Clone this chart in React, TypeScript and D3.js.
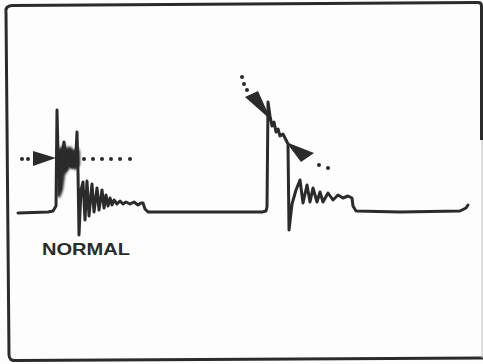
import React from "react";
import * as d3 from "d3";

// Trace: [time, amplitude] (baseline amplitude = 0)
const trace: [number, number][] = [
  [18, -1], [48, 0], [53, 1], [56, 6], [57, 102], [58, 60], [60, 22], [62, 50], [64, 70],
  [66, 42], [68, 56], [70, 48], [72, 45], [74, 55], [76, 60], [77, 80], [78, 40], [79, -23],
  [81, 22], [83, 30], [85, -8], [87, 31], [89, -4], [92, 28], [94, 0], [97, 24], [99, 2],
  [102, 22], [104, 4], [106, 17], [108, 6], [110, 14], [112, 7], [114, 12], [117, 8],
  [120, 11], [123, 8], [126, 10], [130, 8], [134, 10], [138, 7], [141, 9], [143, 9],
  [145, 3], [148, 0], [200, 0], [262, 0], [266, 1], [267, 5], [268, 110], [270, 96],
  [272, 86], [274, 90], [276, 80], [278, 83], [280, 76], [283, 78], [286, 72], [288, 68],
  [289, -18], [292, 8], [296, 22], [300, 32], [303, 9], [307, 27], [310, 10], [313, 24],
  [317, 10], [320, 20], [323, 10], [328, 19], [333, 12], [338, 17], [343, 14], [348, 16],
  [352, 14], [353, 6], [356, 1], [400, 0], [460, 1], [466, 4], [468, 7],
];

// Dense (blurred) burst region on the normal pulse
const burst: [number, number][] = [
  [57, 62], [62, 66], [64, 70], [67, 64], [70, 66], [74, 62], [78, 65], [80, 60],
  [80, 47], [76, 42], [70, 44], [65, 37], [63, 22], [60, 14], [57, 16],
];

// Reference level markers
const levelDotsA: [number, number][] = [
  [22, 53], [28, 53], [84, 53], [93, 53], [102, 53], [111, 53], [120, 53], [130, 53],
];
const levelDotsB: [number, number][] = [
  [242, 135], [244, 128], [247, 122], [319, 47], [328, 44],
];
const arrowsTri: [number, number][][] = [
  [[33, 61], [33, 46], [56, 54]],
  [[245, 115], [258, 121], [271, 92]],
  [[301, 50], [314, 59], [286, 70]],
];

const labels = [{ text: "NORMAL", t: 42, a: -43 }];

export default function App() {
  const W = 483, H = 364;
  const x = d3.scaleLinear().domain([0, 483]).range([0, W]);
  const y = d3.scaleLinear().domain([-152, 212]).range([H, 0]);
  const line = d3.line<[number, number]>().x(d => x(d[0])).y(d => y(d[1]));
  const poly = (pts: [number, number][]) => line(pts) + "Z";
  const ink = "#2b2b2b";
  return (
    <svg width={W} height={H} style={{ position: "fixed", left: 0, top: 0, background: "#fdfdfd" }}>
      <defs>
        <filter id="blur" x="-20%" y="-20%" width="140%" height="140%">
          <feGaussianBlur stdDeviation="0.8" />
        </filter>
      </defs>
      <rect width={W} height={H} fill="#fdfdfd" />
      {/* frame */}
      <path d="M6,12 Q5,6 12,5.5 L478,2.5 Q481.5,2.5 481.5,6 L481.5,140" fill="none" stroke={ink} strokeWidth={3} />
      <path d="M6,12 L9,355 Q9.5,361 15,360.5 L483,358" fill="none" stroke={ink} strokeWidth={3} />
      <path d="M482,140 L482,358" fill="none" stroke="#bbb" strokeWidth={1} />
      {/* burst */}
      <path d={poly(burst)} fill={ink} filter="url(#blur)" />
      {/* trace */}
      <path d={line(trace) ?? ""} fill="none" stroke={ink} strokeWidth={3} strokeLinejoin="round" strokeLinecap="round" />
      {/* level markers */}
      {[...levelDotsA, ...levelDotsB].map((d, i) => (
        <circle key={i} cx={x(d[0])} cy={y(d[1])} r={2} fill={ink} />
      ))}
      {arrowsTri.map((tri, i) => (
        <path key={i} d={poly(tri)} fill={ink} />
      ))}
      {labels.map((l, i) => (
        <text key={i} x={x(l.t)} y={y(l.a)} textLength={88} lengthAdjust="spacingAndGlyphs"
          fontFamily="Liberation Sans, Arial, sans-serif" fontWeight="bold" fontSize={16.5} fill={ink}>
          {l.text}
        </text>
      ))}
    </svg>
  );
}
